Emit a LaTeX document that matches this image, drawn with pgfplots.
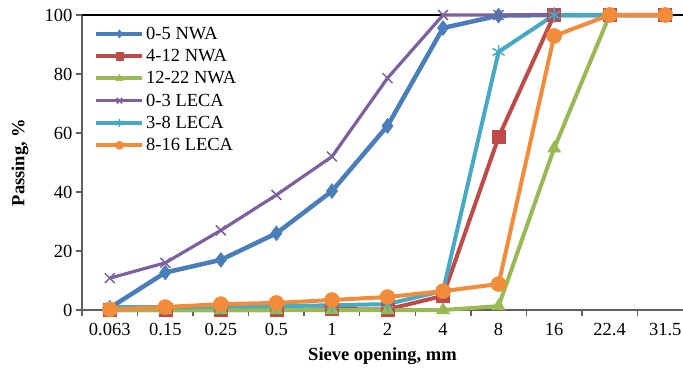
\documentclass[border=0pt]{standalone}
\usepackage{pgfplots}
\pgfplotsset{compat=1.18}
\usepackage{fontspec}
\setmainfont{Liberation Serif}
\definecolor{cBlue}{HTML}{4A7EBB}
\definecolor{cRed}{HTML}{BE4B48}
\definecolor{cGreen}{HTML}{98B954}
\definecolor{cPurple}{HTML}{7D60A0}
\definecolor{cTeal}{HTML}{46AAC5}
\definecolor{cOrange}{HTML}{F38C3A}
\begin{document}
\begin{tikzpicture}
\path[use as bounding box] (0,0) rectangle (683pt,368pt);
\begin{axis}[
  at={(82pt,58pt)}, anchor=south west,
  scale only axis, width=601pt, height=295pt,
  xmin=-0.5, xmax=10.32, ymin=0, ymax=100,
  clip=false,
  axis x line*=bottom, axis y line*=left,
  axis line style={-, draw=gray!75!black, line width=2.5pt},
  font=\fontsize{18.5}{22}\selectfont,
  /pgf/number format/assume math mode=true,
  ytick={0,20,...,100},
  xtick={0,...,10},
  xticklabels={0.063,0.15,0.25,0.5,1,2,4,8,16,22.4,31.5},
  minor xtick={-0.5,0.5,...,9.5},
  tick align=outside,
  major tick length=6pt, minor tick length=6pt,
  x tick style={draw=none},
  minor x tick style={draw=gray!75!black, line width=1.5pt},
  y tick style={draw=gray!75!black, line width=1.5pt},
  xticklabel style={yshift=-4pt},
  xlabel={\bfseries Sieve opening, mm},
  ylabel={\bfseries Passing, \%},
  xlabel style={at={(axis description cs:0.5,-0.1695)}, anchor=base},
  ylabel style={at={(axis description cs:-0.103,0.5)}, anchor=center},
  legend style={at={(0.02,0.965)}, anchor=north west, draw=none, fill=none,
    font=\fontsize{18.5}{22}\selectfont, row sep=5.5pt, inner sep=0pt,
    nodes={inner sep=1.5pt}},
  legend cell align=left,
  legend image code/.code={\draw[mark repeat=2,mark phase=2,#1,every mark/.append style={scale=0.55}] plot coordinates {(0pt,0pt) (23pt,0pt) (46pt,0pt)};},
]
\draw[black, line width=2.5pt] (rel axis cs:0,1) -- (rel axis cs:1,1);
\addplot[cBlue, line width=4.5pt, mark=diamond*, mark size=7.5pt, mark options={solid, line width=0.5pt}]
  coordinates {(0,0.7) (1,12.7) (2,17) (3,26) (4,40.3) (5,62.4) (6,95.6) (7,99.8) (8,100) (9,100) (10,100)};
\addlegendentry{0-5 NWA}
\addplot[cRed, line width=4pt, mark=square*, mark size=6.5pt, mark options={solid, line width=0.5pt}]
  coordinates {(0,0) (1,0) (2,0) (3,0) (4,0.3) (5,0.2) (6,4.8) (7,58.6) (8,100) (9,100) (10,100)};
\addlegendentry{4-12 NWA}
\addplot[cGreen, line width=4pt, mark=triangle*, mark size=7.5pt, mark options={solid, line width=0.5pt}]
  coordinates {(0,0) (1,0) (2,0) (3,0) (4,0) (5,0) (6,0) (7,1.3) (8,54.8) (9,100) (10,100)};
\addlegendentry{12-22 NWA}
\addplot[cPurple, line width=3.2pt, mark=x, mark size=7pt, mark options={solid, line width=1.5pt}]
  coordinates {(0,10.8) (1,16) (2,27) (3,39) (4,52) (5,78.6) (6,100) (7,100) (8,100) (9,100) (10,100)};
\addlegendentry{0-3 LECA}
\addplot[cTeal, line width=4pt, mark=asterisk, mark size=7pt, mark options={solid, line width=1.5pt}]
  coordinates {(0,1) (1,1) (2,1.2) (3,1.3) (4,1.6) (5,2) (6,6.5) (7,87.5) (8,100) (9,100) (10,100)};
\addlegendentry{3-8 LECA}
\addplot[cOrange, line width=4pt, mark=*, mark size=7.5pt, mark options={solid, line width=0.5pt}]
  coordinates {(0,0.2) (1,1) (2,2) (3,2.4) (4,3.4) (5,4.4) (6,6.4) (7,8.8) (8,92.9) (9,100) (10,100)};
\addlegendentry{8-16 LECA}
\end{axis}
\end{tikzpicture}
\end{document}
